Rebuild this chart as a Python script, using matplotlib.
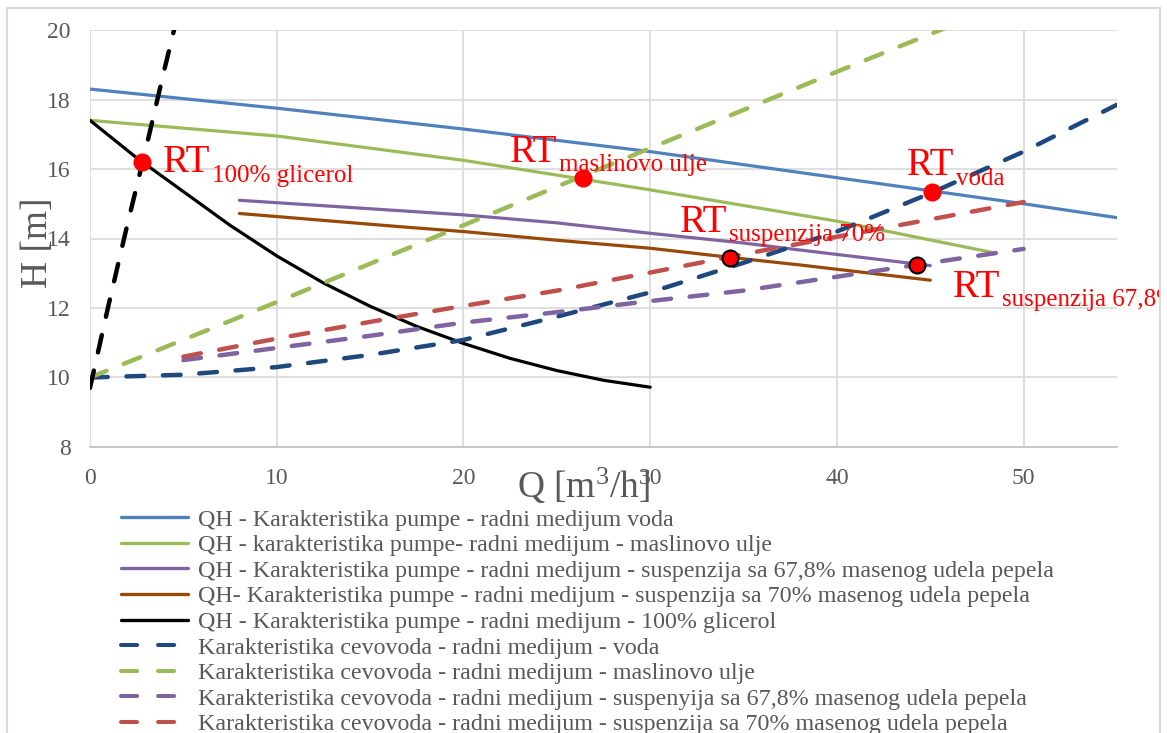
import matplotlib
matplotlib.use("Agg")
import matplotlib.pyplot as plt
from matplotlib.lines import Line2D
from matplotlib.patches import Rectangle
from matplotlib.transforms import Bbox

plt.rcParams["font.family"] = ["Liberation Serif", "DejaVu Serif"]
plt.rcParams["mathtext.fontset"] = "custom"
plt.rcParams["mathtext.rm"] = "Liberation Serif"
plt.rcParams["mathtext.it"] = "Liberation Serif"
plt.rcParams["mathtext.bf"] = "Liberation Serif:bold"

# pump curves (QH)
q_voda = [0, 10, 20, 30, 40, 50, 55]
h_voda = [18.3, 17.75, 17.15, 16.5, 15.75, 15.0, 14.6]

q_ulje = [0, 10, 20, 30, 40, 48.3]
h_ulje = [17.4, 16.95, 16.25, 15.4, 14.5, 13.6]

q_s678 = [8, 16.6, 20, 25, 30, 35, 38, 45]
h_s678 = [15.1, 14.8, 14.68, 14.45, 14.15, 13.87, 13.67, 13.22]

q_s70 = [8, 16.6, 20, 25, 30, 34.4, 38, 45]
h_s70 = [14.72, 14.34, 14.2, 13.95, 13.72, 13.45, 13.24, 12.8]

q_glic = [0, 2.5, 5, 7.5, 10, 12.5, 15, 17.5, 20, 22.5, 25, 27.5, 30]
h_glic = [17.4, 16.32, 15.35, 14.38, 13.5, 12.72, 12.05, 11.47, 10.98, 10.55, 10.2, 9.92, 9.72]

# pipeline curves (cevovod)
qc_voda = [0, 5, 10, 15, 20, 25, 30, 35, 40, 45, 50, 55]
hc_voda = [10.0, 10.08, 10.3, 10.65, 11.08, 11.75, 12.45, 13.3, 14.2, 15.3, 16.5, 17.85]

qc_ulje = [0, 10, 20, 30, 40, 46]
hc_ulje = [10.0, 12.17, 14.38, 16.6, 18.8, 20.1]

qc_s678 = [5, 10, 15, 20, 25, 30, 35, 40, 45, 50]
hc_s678 = [10.5, 10.85, 11.2, 11.58, 11.88, 12.2, 12.5, 12.9, 13.3, 13.7]

qc_s70 = [5, 10, 15, 20, 25, 30, 35, 40, 45, 50]
hc_s70 = [10.6, 11.12, 11.6, 12.06, 12.5, 13.02, 13.55, 14.05, 14.55, 15.05]

qc_glic = [0, 1, 2, 3, 4, 4.5]
hc_glic = [9.7, 12.1, 14.4, 16.6, 18.9, 20.0]

# operating points (RT)
rt_names = ["100% glicerol", "maslinovo ulje", "suspenzija 70%", "voda", "suspenzija 67,8%"]
rt_q = [2.8, 26.4, 34.3, 45.1, 44.3]
rt_h = [16.2, 15.75, 13.45, 15.35, 13.25]
rt_edge = ["#FF0000", "#FF0000", "black", "#FF0000", "black"]
rt_label_pos = [(3.91, 15.91), (22.49, 16.21), (31.6, 14.2), (43.74, 15.83), (46.22, 12.33)]

labels = [
    "QH - Karakteristika pumpe - radni medijum voda",
    "QH - karakteristika pumpe- radni medijum - maslinovo ulje",
    "QH - Karakteristika pumpe - radni medijum - suspenzija sa 67,8% masenog udela pepela",
    "QH- Karakteristika pumpe - radni medijum - suspenzija sa 70% masenog udela pepela",
    "QH - Karakteristika pumpe - radni medijum - 100% glicerol",
    "Karakteristika cevovoda - radni medijum - voda",
    "Karakteristika cevovoda - radni medijum - maslinovo ulje",
    "Karakteristika cevovoda - radni medijum - suspenyija sa 67,8% masenog udela pepela",
    "Karakteristika cevovoda - radni medijum - suspenzija sa 70% masenog udela pepela",
]

gray = "#595959"
W, H = 1167, 733
fig = plt.figure(figsize=(W / 100, H / 100), dpi=100)
ax = fig.add_axes([90 / W, 1 - 447 / H, 1027 / W, 417 / H])

lw_s = 2.3
lw_d = 3.2
dash = (0, (4.0, 4.2))

handles = []
for q, h, c in [(q_voda, h_voda, "#4F81BD"), (q_ulje, h_ulje, "#9BBB59"),
                (q_s678, h_s678, "#8064A2"), (q_s70, h_s70, "#984807"),
                (q_glic, h_glic, "black")]:
    ax.plot(q, h, color=c, lw=lw_s, solid_capstyle="round", zorder=3)
    handles.append(Line2D([], [], color=c, lw=2.4, solid_capstyle="round"))

for q, h, c in [(qc_voda, hc_voda, "#1F497D"), (qc_ulje, hc_ulje, "#9BBB59"),
                (qc_s678, hc_s678, "#8064A2"), (qc_s70, hc_s70, "#C0504D"),
                (qc_glic, hc_glic, "black")]:
    ax.plot(q, h, color=c, lw=lw_d, linestyle=dash, dash_capstyle="round", zorder=3)
    handles.append(Line2D([], [], color=c, lw=2.9, linestyle=(0, (4.0, 5.2)),
                          dash_capstyle="round"))

for q, h, ec in zip(rt_q, rt_h, rt_edge):
    ax.plot(q, h, "o", ms=11.5, mfc="#FF0000", mec=ec, mew=1.5, zorder=5)

clip = Bbox.from_extents(7, 0, 1160, H)
for name, (lx, ly) in zip(rt_names, rt_label_pos):
    t = ax.text(lx, ly, "RT", color="#FF0000", fontsize=28, va="baseline", ha="left", zorder=6)
    s = ax.annotate(name, xy=(1, 0), xycoords=t, xytext=(1, -0.5), textcoords="offset points",
                    color="#FF0000", fontsize=18, va="baseline", ha="left", zorder=6,
                    annotation_clip=False)
    s.set_clip_box(clip)
    s.set_clip_on(True)

ax.set_xlim(0, 55)
ax.set_ylim(8, 20)
ax.set_xticks(range(0, 51, 10))
ax.set_yticks(range(8, 21, 2))
ax.grid(True, color="#D9D9D9", lw=1.2)
ax.set_axisbelow(True)
for sp in ["top", "right", "left"]:
    ax.spines[sp].set_visible(False)
ax.spines["bottom"].set_color("#BFBFBF")
ax.spines["bottom"].set_linewidth(1.2)
ax.tick_params(length=0, labelsize=17, labelcolor=gray)
ax.tick_params(axis="x", pad=15)
ax.tick_params(axis="y", pad=14)

ax.set_xlabel("Q [m$^{3}$/h]", fontsize=27, color=gray)
ax.xaxis.set_label_coords(0.481, -0.045)
ax.set_ylabel("H [m]", fontsize=27, color=gray)
ax.yaxis.set_label_coords(-0.034, 0.49)

fig.legend(handles[:9], labels, loc="upper left", bbox_to_anchor=(121 / W, 1 - 509 / H),
           frameon=False, fontsize=17.3, labelcolor=gray, handlelength=2.8,
           handletextpad=0.42, labelspacing=0.155, borderpad=0, borderaxespad=0)

fig.add_artist(Rectangle((7 / W, -0.1), 1153 / W, 1.1 - 8 / H, transform=fig.transFigure,
                         fill=False, ec="#D9D9D9", lw=1.5))

fig.savefig("out.png", dpi=100)
